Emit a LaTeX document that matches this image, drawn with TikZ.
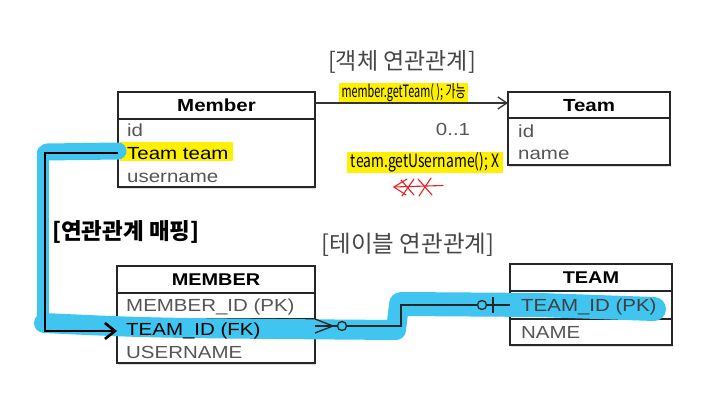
\documentclass[tikz,border=0pt]{standalone}
\usepackage{fontspec}
\usepackage{graphicx}
\setmainfont[FakeStretch=1.17]{Liberation Sans}
\newfontfamily\kr{Noto Sans CJK KR}
\usetikzlibrary{arrows.meta,shadows}
\definecolor{hlblue}{RGB}{64,197,240}
\definecolor{hlyellow}{RGB}{255,240,0}
\definecolor{txtgray}{RGB}{85,85,85}
\definecolor{ttlgray}{RGB}{70,70,70}
\definecolor{scribble}{RGB}{235,30,30}
\begin{document}
\begin{tikzpicture}[x=1pt,y=-1pt,
  box/.style={draw=black!85, line width=1.3pt, fill=white, anchor=north west, inner sep=0pt, outer sep=0pt,
    drop shadow={shadow xshift=1.2pt,shadow yshift=-1.6pt,opacity=0.25}},
  sep/.style={draw=black!85, line width=1.3pt},
  hdr/.style={font=\fontsize{17.5}{20}\selectfont\bfseries, text height=12.6pt, text depth=0pt, inner sep=0pt},
  rowtxt/.style={font=\fontsize{17.5}{20}\selectfont, text=txtgray, anchor=west, text height=12.6pt, text depth=0pt, inner sep=0pt},
  ttl/.style={font=\kr\fontsize{23}{26}\selectfont, text=ttlgray, inner sep=0pt},
  note/.style={fill=hlyellow, inner sep=0pt, minimum height=20pt, font=\kr\fontsize{11}{13}\selectfont},
  hlline/.style={hlblue, line cap=round, line join=round},
  conn/.style={black, line width=2.6pt, line join=miter},
  er/.style={black!85, line width=1.3pt},
  assoc/.style={black!80, line width=1.3pt},
  scr/.style={scribble, line width=1.1pt, line cap=round}
]
\useasboundingbox (0,0) rectangle (702,412);

% ---------- boxes ----------
\node[box, minimum width=197pt, minimum height=95pt] (member) at (118,92) {};
\node[box, minimum width=162pt, minimum height=73pt] (team) at (508,92) {};
\node[box, minimum width=198pt, minimum height=97pt] (MEMBER) at (117,266) {};
\node[box, minimum width=162pt, minimum height=81pt] (TEAM) at (510,264) {};

\draw[sep] (118,119) -- (315,119);
\draw[sep] (508,118) -- (670,118);
\draw[sep] (117,293) -- (315,293);
\draw[sep] (117,319) -- (315,319);
\draw[sep] (510,291) -- (672,291);
\draw[sep] (510,319) -- (672,319);

% ---------- highlights ----------
\fill[hlyellow] (120,142) rectangle (233,161);
\draw[hlline, line width=17pt] (47,152) -- (118,151);
\draw[hlline, line width=12pt] (43,152) -- (43,324);
\draw[hlline, line width=20pt] (44,323) .. controls (150,328) .. (396,330) -- (399,305);
\draw[hlline, line width=24pt] (401,304) -- (540,305) -- (654,309);

% ---------- titles ----------
\node[ttl] (t1) at (402,62) {[객체 연관관계]};
\node[ttl, font=\kr\fontsize{23.5}{26}\selectfont] (t2) at (408,245) {[테이블 연관관계]};
\node[ttl, anchor=west, text=black, font=\kr\bfseries\fontsize{22.5}{26}\selectfont] (t3) at (52,232) {[연관관계 매핑]};

% ---------- texts ----------
\node[hdr] (memberH) at (216.5,105.5) {Member};
\node[rowtxt] (mid) at (127,130.5) {id};
\node[rowtxt, text=black] (mteam) at (127,153) {Team team};
\node[rowtxt] (muser) at (127,176) {username};

\node[hdr] (teamH) at (589,105) {Team};
\node[rowtxt] (tid) at (518,131) {id};
\node[rowtxt] (tname) at (518,153) {name};

\node[hdr, font=\fontsize{17}{20}\selectfont\bfseries] (MEMBERH) at (216,279.5) {MEMBER};
\node[rowtxt] (Mmid) at (126,305.5) {MEMBER\_ID (PK)};
\node[rowtxt, text=black] (Mteamid) at (126,329) {TEAM\_ID (FK)};
\node[rowtxt] (Muser) at (126,352) {USERNAME};

\node[hdr, font=\fontsize{17}{20}\selectfont\bfseries] (TEAMH) at (591,277.5) {TEAM};
\node[rowtxt, text=black!75] (Tid) at (521,305) {TEAM\_ID (PK)};
\node[rowtxt] (Tname) at (521,332) {NAME};

\node[rowtxt, anchor=center] (mult) at (453,129) {0..1};

% ---------- notes ----------
\node[note, minimum width=129pt] (n1) at (403.5,93) {\resizebox{124pt}{14pt}{member.getTeam( ); 가능}};
\node[note, minimum width=156pt, minimum height=21pt] (n2) at (425,162.5) {\resizebox{148pt}{15pt}{team.getUsername(); X}};

% red scribble
\draw[scr] (407,179) -- (394,187) -- (406,195);
\draw[scr] (394,187) -- (443,185.5);
\draw[scr] (401,180) -- (414,195);
\draw[scr] (414,179) -- (402,196);
\draw[scr] (418,179) -- (432,195);
\draw[scr] (431,178) -- (419,196);

% ---------- connectors ----------
\draw[assoc, -{Straight Barb[length=9pt,width=12pt,line width=1.3pt]}] ([yshift=-11pt]member.north east) -- ([yshift=-11pt]team.north west);

\coordinate (bend1) at (45,153);
\coordinate (bend2) at (45,331);
\draw[conn, -{Straight Barb[length=10pt,width=16pt,line width=2.6pt]}] (member.west |- mteam) -- (bend1) -- (bend2) -- (MEMBER.west |- bend2);

\coordinate (cfTip) at (333,326);
\coordinate (cfUp) at (315,319);
\coordinate (cfDn) at (315,333);
\coordinate (er1) at (401,326);
\coordinate (er2) at (401,305);
\coordinate (barT) at (493,297);
\coordinate (barB) at (493,313);
\node[circle, draw=black!85, line width=1.3pt, minimum size=9pt, inner sep=0pt] (c1) at (342,326) {};
\node[circle, draw=black!85, line width=1.3pt, minimum size=9pt, inner sep=0pt] (c2) at (482,305) {};
\draw[er] (cfUp) -- (cfTip) -- (cfDn);
\draw[er] (MEMBER.east |- cfTip) -- (cfTip) -- (c1.west);
\draw[er] (c1.east) -- (er1) -- (er2) -- (c2.west);
\draw[er] (c2.east) -- (TEAM.west |- c2);
\draw[er] (barT) -- (barB);
\end{tikzpicture}
\end{document}
